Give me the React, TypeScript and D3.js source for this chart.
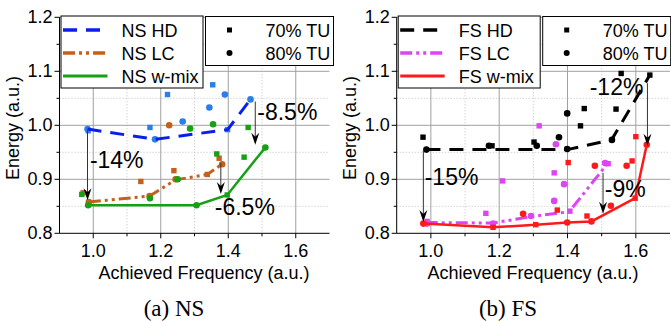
import React from 'react';
import * as d3 from 'd3';

// tick values
const majorFreq = [1.0, 1.2, 1.4, 1.6];
const minorFreq = [1.1, 1.3, 1.5];
const majorEnergy = [0.8, 0.9, 1.0, 1.1, 1.2];
const minorEnergy = [0.85, 0.95, 1.05, 1.15];

// NS panel
const nsHdLineX = [0.983, 1.183, 1.398, 1.466];
const nsHdLineY = [0.993, 0.974, 0.992, 1.048];
const nsHdSquares = [[0.985, 0.99], [1.168, 0.996], [1.22, 1.057], [1.354, 1.075], [1.398, 0.992]];
const nsHdCircles = [[0.983, 0.993], [1.183, 0.974], [1.265, 1.007], [1.344, 1.033], [1.39, 1.057], [1.466, 1.048]];

const nsLcLineX = [0.987, 1.167, 1.244, 1.338, 1.382];
const nsLcLineY = [0.858, 0.869, 0.899, 0.909, 0.928];
const nsLcSquares = [[0.97, 0.875], [1.141, 0.896], [1.239, 0.916], [1.338, 0.909], [1.373, 0.939]];
const nsLcCircles = [[0.987, 0.858], [1.167, 0.869], [1.225, 1.0], [1.244, 0.9], [1.382, 0.928]];

const nsMixLineX = [0.985, 1.306, 1.397, 1.51];
const nsMixLineY = [0.852, 0.852, 0.871, 0.959];
const nsMixSquares = [[0.966, 0.872], [1.366, 0.947], [1.447, 0.941], [1.459, 0.996], [1.397, 0.871]];
const nsMixCircles = [[0.985, 0.852], [1.168, 0.865], [1.25, 0.9], [1.287, 0.994], [1.355, 1.002], [1.306, 0.852], [1.51, 0.959]];

// FS panel
const fsHdLineX = [0.987, 1.399, 1.529, 1.641];
const fsHdLineY = [0.955, 0.955, 0.973, 1.093];
const fsHdSquares = [[0.977, 0.978], [1.179, 0.962], [1.302, 0.969], [1.438, 0.999], [1.449, 1.031], [1.542, 1.03], [1.557, 1.096], [1.641, 1.093]];
const fsHdCircles = [[0.987, 0.955], [1.17, 0.962], [1.31, 0.962], [1.375, 0.978], [1.399, 1.022], [1.399, 0.956], [1.53, 0.973]];

const fsLcLineX = [0.985, 1.182, 1.295, 1.405, 1.517];
const fsLcLineY = [0.82, 0.819, 0.831, 0.84, 0.929];
const fsLcSquares = [[0.989, 0.822], [1.161, 0.837], [1.21, 0.897], [1.317, 0.999], [1.361, 0.912], [1.407, 0.841], [1.519, 0.929]];
const fsLcCircles = [[0.989, 0.818], [1.182, 0.818], [1.293, 0.832], [1.361, 0.86], [1.366, 0.965], [1.39, 0.891], [1.51, 0.93]];

const fsMixLineX = [0.978, 1.182, 1.307, 1.399, 1.47, 1.598, 1.632];
const fsMixLineY = [0.818, 0.811, 0.816, 0.82, 0.822, 0.865, 0.964];
const fsMixSquares = [[1.182, 0.811], [1.307, 0.816], [1.37, 0.843], [1.402, 0.931], [1.457, 0.832], [1.589, 0.934], [1.6, 0.979], [1.598, 0.865]];
const fsMixCircles = [[0.978, 0.818], [1.27, 0.836], [1.399, 0.82], [1.47, 0.822], [1.48, 0.925], [1.527, 0.851], [1.573, 0.925], [1.632, 0.964]];

// annotations: label, arrow x, arrow from/to energy, text x, text baseline energy
const nsNotes = [
  { label: '-14%', x: 0.983, y1: 0.991, y2: 0.861, tx: 0.99, ty: 0.921 },
  { label: '-8.5%', x: 1.48, y1: 1.044, y2: 0.964, tx: 1.486, ty: 1.01 },
  { label: '-6.5%', x: 1.378, y1: 0.93, y2: 0.873, tx: 1.36, ty: 0.834 },
];
const fsNotes = [
  { label: '-15%', x: 0.978, y1: 0.954, y2: 0.821, tx: 0.982, ty: 0.889 },
  { label: '-12%', x: 1.634, y1: 1.078, y2: 0.962, tx: 1.465, ty: 1.056 },
  { label: '-9%', x: 1.504, y1: 0.912, y2: 0.836, tx: 1.509, ty: 0.867 },
];

const SANS = 'Liberation Sans, Arial, Helvetica, sans-serif';
const SERIF = 'Liberation Serif, Times New Roman, serif';

const HD_DASH = '14,9';
const LC_DASH = '12,4,3,4,3,4';

type Series = {
  name: string;
  lx: number[];
  ly: number[];
  squares: number[][];
  circles: number[][];
  lineColor: string;
  markColor: string;
  dash?: string;
  width: number;
};

type Note = { label: string; x: number; y1: number; y2: number; tx: number; ty: number };

const Panel: React.FC<{
  left: number;
  right: number;
  series: Series[];
  notes: Note[];
  caption: string;
  titleX: number;
  captionX: number;
}> = ({ left, right, series, notes, caption, titleX, captionX }) => {
  const x = d3.scaleLinear().domain([0.9, 1.7]).range([left, right]);
  const y = d3.scaleLinear().domain([0.8, 1.2]).range([233.3, 17.3]);
  const line = d3.line<number>();
  const bottom = y(0.8);

  return (
    <g>
      {/* grid */}
      {minorFreq.map(v => (
        <line key={'mf' + v} x1={x(v)} x2={x(v)} y1={y(1.2)} y2={bottom} stroke="#c0c0c0" strokeDasharray="1,2" />
      ))}
      {minorEnergy.map(v => (
        <line key={'me' + v} x1={left} x2={right} y1={y(v)} y2={y(v)} stroke="#c0c0c0" strokeDasharray="1,2" />
      ))}
      {majorFreq.map(v => (
        <line key={'gf' + v} x1={x(v)} x2={x(v)} y1={y(1.2)} y2={bottom} stroke="#a0a0a0" />
      ))}
      {majorEnergy.slice(1).map(v => (
        <line key={'ge' + v} x1={left} x2={right} y1={y(v)} y2={y(v)} stroke="#a0a0a0" />
      ))}

      {/* axes */}
      <line x1={left} x2={right} y1={bottom} y2={bottom} stroke="#000" />
      <line x1={left} x2={left} y1={y(1.2)} y2={bottom} stroke="#000" />
      {majorFreq.map(v => (
        <g key={'xt' + v}>
          <line x1={x(v)} x2={x(v)} y1={bottom} y2={bottom + 5} stroke="#000" />
          <text x={x(v)} y={bottom + 24} textAnchor="middle" fontSize={18} fontFamily={SANS}>
            {v.toFixed(1)}
          </text>
        </g>
      ))}
      {minorFreq.map(v => (
        <line key={'xm' + v} x1={x(v)} x2={x(v)} y1={bottom} y2={bottom + 3} stroke="#000" />
      ))}
      {majorEnergy.map(v => (
        <g key={'yt' + v}>
          <line x1={left - 5} x2={left} y1={y(v)} y2={y(v)} stroke="#000" />
          <text x={left - 7} y={y(v) + 6} textAnchor="end" fontSize={18} fontFamily={SANS}>
            {v.toFixed(1)}
          </text>
        </g>
      ))}
      {minorEnergy.map(v => (
        <line key={'ym' + v} x1={left - 3} x2={left} y1={y(v)} y2={y(v)} stroke="#000" />
      ))}

      {/* titles */}
      <text x={titleX} y={279} textAnchor="middle" fontSize={18} fontFamily={SANS}>
        Achieved Frequency (a.u.)
      </text>
      <text
        transform={`translate(${left - 41},${128}) rotate(-90)`}
        textAnchor="middle"
        fontSize={18}
        fontFamily={SANS}
      >
        Energy (a.u.)
      </text>
      <text x={captionX} y={316} textAnchor="middle" fontSize={23} fontFamily={SERIF}>
        {caption}
      </text>

      {/* series */}
      {series.map(s => (
        <g key={s.name}>
          {s.squares.map((p, i) => (
            <rect key={'s' + i} x={x(p[0]) - 2.7} y={y(p[1]) - 2.7} width={5.4} height={5.4} fill={s.markColor} />
          ))}
          {s.circles.map((p, i) => (
            <circle key={'c' + i} cx={x(p[0])} cy={y(p[1])} r={3.3} fill={s.markColor} />
          ))}
          <path
            d={line(s.lx.map((v, i) => [x(v), y(s.ly[i])])) || ''}
            fill="none"
            stroke={s.lineColor}
            strokeWidth={s.width}
            strokeDasharray={s.dash}
          />
        </g>
      ))}

      {/* annotations */}
      {notes.map(n => {
        const ax = x(n.x);
        const ay = y(n.y2);
        return (
          <g key={n.label}>
            <line x1={ax} x2={ax} y1={y(n.y1)} y2={ay - 3} stroke="#333" strokeWidth={1} />
            <path d={`M${ax},${ay} L${ax - 4},${ay - 12} L${ax},${ay - 8} L${ax + 4},${ay - 12} Z`} fill="#000" />
            <text x={x(n.tx)} y={y(n.ty)} fontSize={23} fontFamily={SANS}>
              {n.label}
            </text>
          </g>
        );
      })}

      {/* legend: lines */}
      <rect x={left + 1.5} y={16} width={142} height={72} fill="#fff" stroke="#000" />
      {series.map((s, i) => (
        <g key={'lg' + s.name}>
          <line
            x1={left + 3.5}
            x2={left + 48}
            y1={30 + i * 23}
            y2={30 + i * 23}
            stroke={s.lineColor}
            strokeWidth={s.width + 0.5}
            strokeDasharray={s.dash}
          />
          <text x={left + 62} y={36.5 + i * 23} fontSize={18} fontFamily={SANS}>
            {s.name}
          </text>
        </g>
      ))}

      {/* legend: markers */}
      <rect x={left + 146} y={16.5} width={128} height={49} fill="#fff" stroke="#000" />
      <rect x={left + 167.5} y={27.5} width={5} height={5} fill="#000" />
      <circle cx={left + 170} cy={53} r={3} fill="#000" />
      <text x={left + 206} y={36.5} fontSize={18} fontFamily={SANS}>70% TU</text>
      <text x={left + 206} y={59.5} fontSize={18} fontFamily={SANS}>80% TU</text>
    </g>
  );
};

const nsSeries: Series[] = [
  { name: 'NS HD', lx: nsHdLineX, ly: nsHdLineY, squares: nsHdSquares, circles: nsHdCircles, lineColor: '#0a1ef0', markColor: '#2b7de9', dash: HD_DASH, width: 3 },
  { name: 'NS LC', lx: nsLcLineX, ly: nsLcLineY, squares: nsLcSquares, circles: nsLcCircles, lineColor: '#c4601c', markColor: '#c4601c', dash: LC_DASH, width: 3 },
  { name: 'NS w-mix', lx: nsMixLineX, ly: nsMixLineY, squares: nsMixSquares, circles: nsMixCircles, lineColor: '#16a016', markColor: '#16a016', width: 2.5 },
];

const fsSeries: Series[] = [
  { name: 'FS HD', lx: fsHdLineX, ly: fsHdLineY, squares: fsHdSquares, circles: fsHdCircles, lineColor: '#000', markColor: '#000', dash: HD_DASH, width: 3 },
  { name: 'FS LC', lx: fsLcLineX, ly: fsLcLineY, squares: fsLcSquares, circles: fsLcCircles, lineColor: '#dd44f5', markColor: '#dd44f5', dash: LC_DASH, width: 3 },
  { name: 'FS w-mix', lx: fsMixLineX, ly: fsMixLineY, squares: fsMixSquares, circles: fsMixCircles, lineColor: '#ff1a1a', markColor: '#ff1a1a', width: 2.5 },
];

export default function App() {
  return (
    <svg
      width={671}
      height={321}
      style={{ position: 'absolute', left: 0, top: 0, background: '#fff' }}
    >
      <Panel left={59.5} right={329.5} series={nsSeries} notes={nsNotes} caption="(a) NS" titleX={204} captionX={174} />
      <Panel left={396.7} right={670} series={fsSeries} notes={fsNotes} caption="(b) FS" titleX={533} captionX={508} />
    </svg>
  );
}
